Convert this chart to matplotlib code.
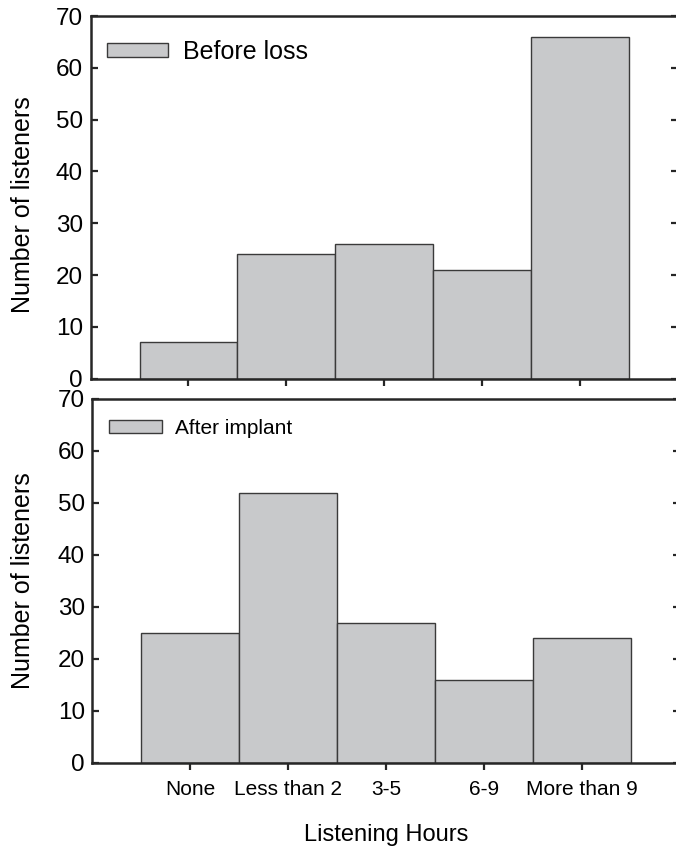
import matplotlib.pyplot as plt
from matplotlib.patches import Patch

plt.rcParams['font.family'] = ['Liberation Sans', 'DejaVu Sans']

categories = ['None', 'Less than 2', '3-5', '6-9', 'More than 9']
before_loss = [7, 24, 26, 21, 66]
after_implant = [25, 52, 27, 16, 24]
yticks = [0, 10, 20, 30, 40, 50, 60, 70]

bar_color = '#c8c9cb'
edge_color = '#3a3a3a'
spine_color = '#262626'


def style_axes(ax, label_x, label_y):
    ax.set_xlim(-1, 5)
    ax.set_ylim(0, 70)
    ax.set_yticks(yticks)
    ax.set_xticks(range(len(categories)))
    for s in ax.spines.values():
        s.set_linewidth(1.8)
        s.set_color(spine_color)
    ax.tick_params(axis='y', direction='in', length=5, width=1.6,
                   left=True, right=True, labelsize=17.5, color=spine_color,
                   pad=5.5)
    ax.tick_params(axis='x', direction='out', length=5, width=1.6,
                   top=False, color=spine_color)
    ax.set_ylabel('Number of listeners', fontsize=18)
    # label sits left of the tick numbers, same place in both panels
    ax.yaxis.set_label_coords(label_x, label_y)


fig = plt.figure(figsize=(6.76, 8.52), dpi=100)
x = list(range(len(categories)))

# top panel
ax1 = fig.add_axes([0.134, 0.5555, 0.869, 0.4257])
ax1.bar(x, before_loss, width=1.0, color=bar_color, edgecolor=edge_color,
        linewidth=1.0)
style_axes(ax1, -0.095, 0.48)
ax1.set_xticklabels([])
ax1.legend(handles=[Patch(facecolor=bar_color, edgecolor=edge_color,
                          linewidth=1.0, label='Before loss')],
           loc='upper left', bbox_to_anchor=(0.028, 0.935), frameon=False,
           fontsize=18, handlelength=2.44, handleheight=0.48,
           handletextpad=0.6, borderpad=0, borderaxespad=0)

# bottom panel
ax2 = fig.add_axes([0.1368, 0.1045, 0.869, 0.4272])
ax2.bar(x, after_implant, width=1.0, color=bar_color, edgecolor=edge_color,
        linewidth=1.0)
style_axes(ax2, -0.098, 0.5)
ax2.set_xticklabels(categories, fontsize=15)
ax2.tick_params(axis='x', pad=7)
ax2.set_xlabel('Listening Hours', fontsize=17, labelpad=18)
ax2.legend(handles=[Patch(facecolor=bar_color, edgecolor=edge_color,
                          linewidth=1.0, label='After implant')],
           loc='upper left', bbox_to_anchor=(0.028, 0.945), frameon=False,
           fontsize=15, handlelength=2.55, handleheight=0.53,
           handletextpad=0.6, borderpad=0, borderaxespad=0)

fig.savefig('out.png', dpi=100)
